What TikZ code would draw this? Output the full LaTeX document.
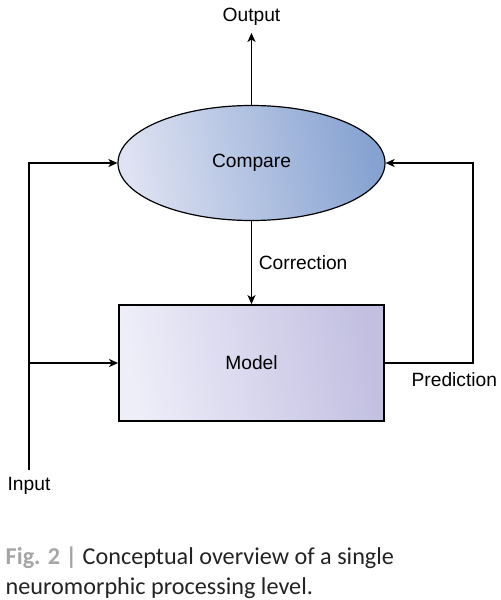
\documentclass[tikz,border=0pt]{standalone}
\usepackage{fontspec}
\setmainfont{Liberation Sans}
\newfontfamily\capfont{Carlito}
\usetikzlibrary{positioning, shapes.geometric, arrows.meta}
\definecolor{cmpleft}{RGB}{222,226,242}
\definecolor{cmpright}{RGB}{134,162,209}
\definecolor{mdlleft}{RGB}{238,238,249}
\definecolor{mdlright}{RGB}{194,191,225}
\definecolor{figgray}{RGB}{165,165,165}
\definecolor{captext}{RGB}{35,35,35}
\tikzset{
	stage/.style={
		ellipse,
		draw,
		line width=0.6pt,
		minimum width=133.5pt,
		minimum height=57.5pt,
		inner sep=0pt,
		left color=cmpleft,
		right color=cmpright,
		shading angle=100,
	},
	block/.style={
		rectangle,
		draw,
		line width=0.9pt,
		minimum width=132.5pt,
		minimum height=58pt,
		inner sep=0pt,
		left color=mdlleft,
		right color=mdlright,
		shading angle=100,
	},
	caption/.style={
		anchor=north west,
		align=left,
		inner sep=0pt,
		font=\capfont\fontsize{12.1}{15}\selectfont,
		text=captext,
	},
}

\begin{document}
\begin{tikzpicture}[node distance = 41.5pt, >={Stealth[length=4.5pt,width=4pt,inset=1.2pt]},
		line width=0.7pt, font=\fontsize{9.6}{11.5}\selectfont]
		\useasboundingbox (-125.75pt,81.5pt) rectangle (124.25pt,-218.5pt);
		% Place nodes
		\node [stage] (cmp) {Compare};
		\node [block, below = of cmp] (mdl) {Model};
		\node [above = 36pt of cmp] (out) {Output};
		
		\coordinate (inbot) at (-111.25pt,-153.5pt);
		\coordinate (split) at (inbot |- mdl.west);
		\coordinate (fbtop) at (110.75pt,0pt);
		\node [below = 0pt of inbot] (inp) {Input};
		\node [below right = 1pt and 9.7pt of mdl.east] (pred) {Prediction};
		
		\draw [->] (cmp) to (out);
		\draw [->] (cmp) to node [right] (corr) {Correction} (mdl);
		
		\draw [->] (inbot) |- (cmp.west);
		\draw [->] (split) to (mdl.west);
		\draw [->] (mdl.east) -| (fbtop) to (cmp.east);
		
		\node [caption] (cap) at (-123.25pt,-191.5pt)
			{{\bfseries\color{figgray}Fig. 2 |} Conceptual overview of a single\\
			neuromorphic processing level.};
	\end{tikzpicture}
\end{document}
